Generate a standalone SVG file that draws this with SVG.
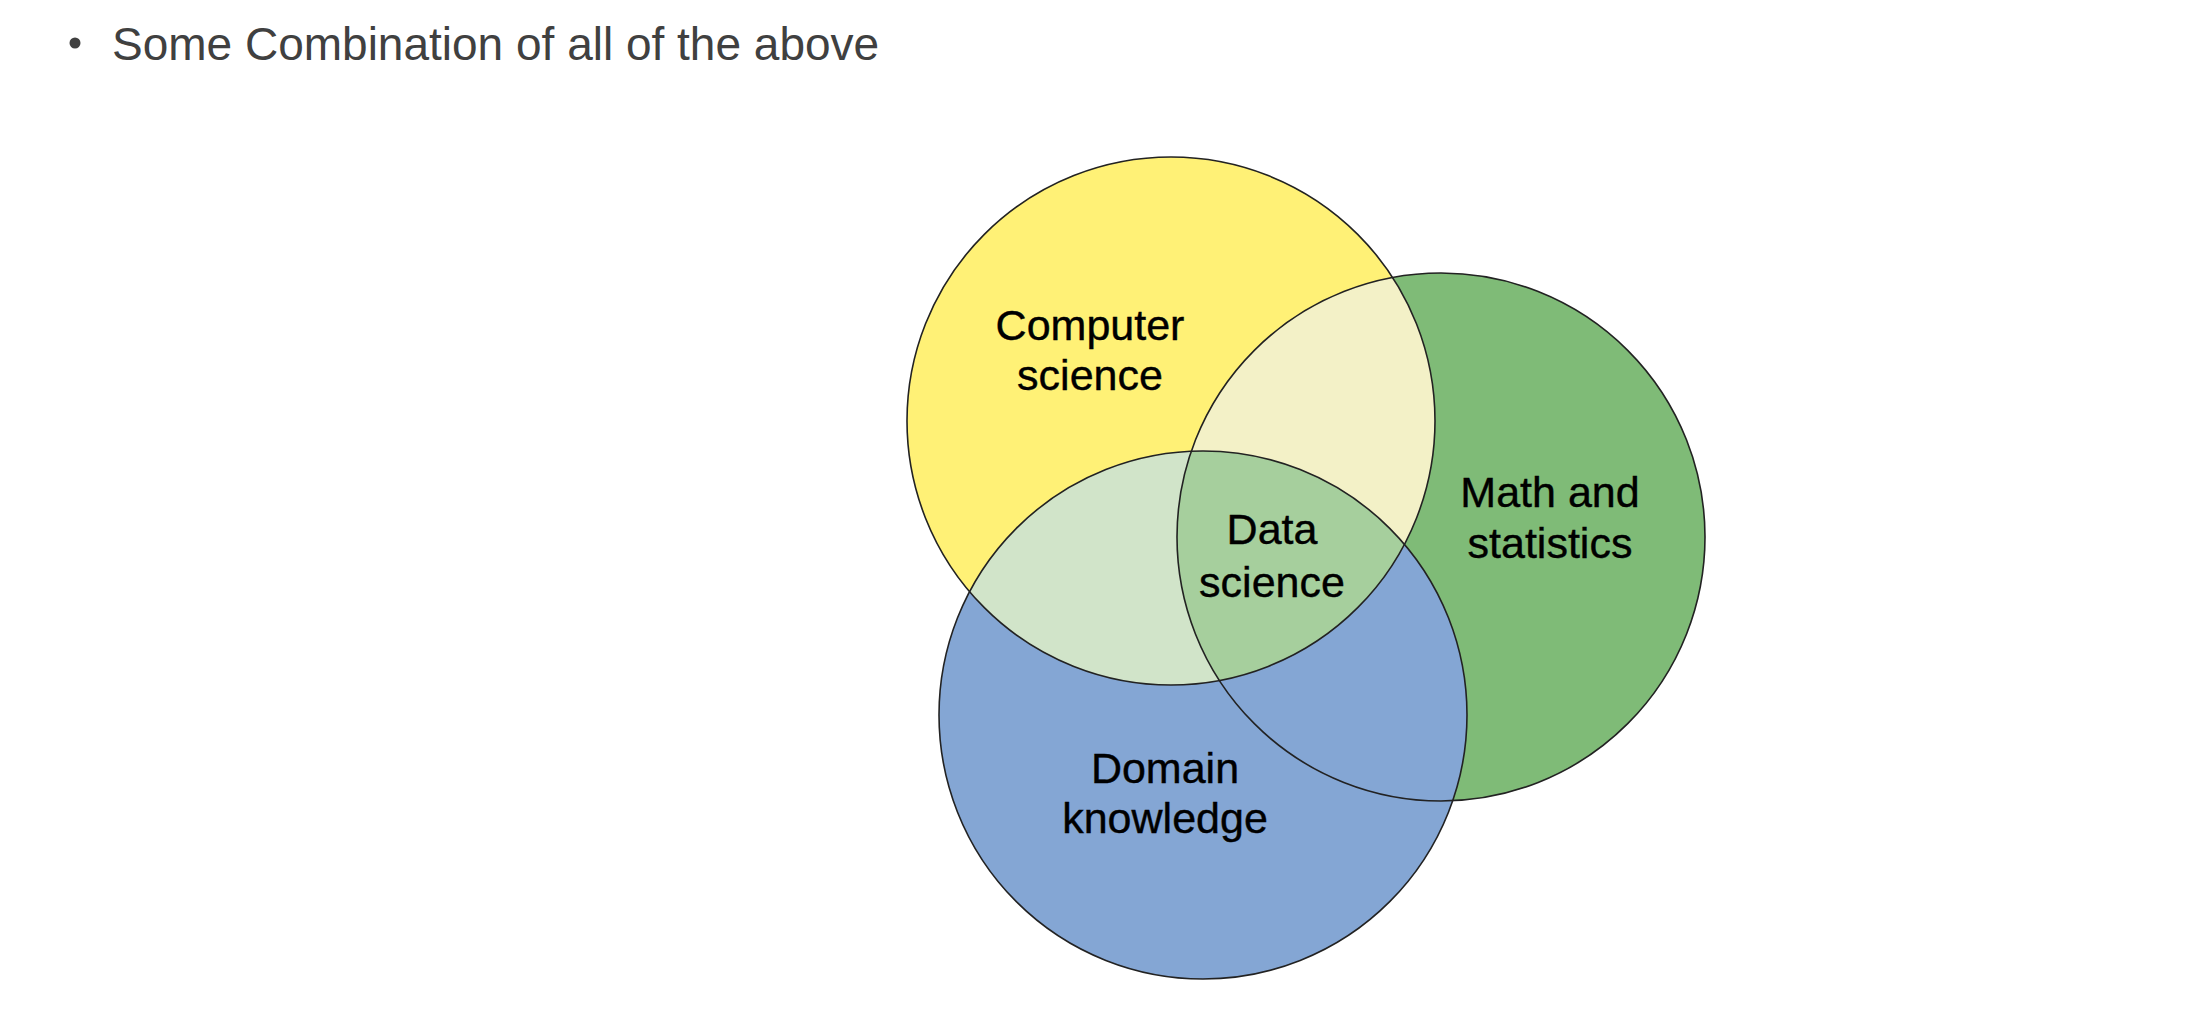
<svg xmlns="http://www.w3.org/2000/svg" width="2192" height="1024" viewBox="0 0 2192 1024">
  <style>
    .title { font-family: "Liberation Sans", Arial, sans-serif; font-size: 46px; fill: #404040; }
    .lbl { font-family: "Liberation Sans", Arial, sans-serif; font-size: 43px; fill: #000; stroke: #000; stroke-width: 0.4; text-anchor: middle; }
    .edge { fill: none; stroke: #222; stroke-width: 1.6; }
  </style>
  <defs>
    <circle id="cY" cx="1171" cy="421" r="264"/>
    <circle id="cG" cx="1441" cy="537" r="264"/>
    <circle id="cB" cx="1203" cy="715" r="264"/>
    <clipPath id="clipY"><use href="#cY"/></clipPath>
    <clipPath id="clipG"><use href="#cG"/></clipPath>
    <clipPath id="clipYG" clip-path="url(#clipG)"><use href="#cY"/></clipPath>
  </defs>
  <rect width="2192" height="1024" fill="#fff"/>

  <g id="bullet">
    <circle cx="75" cy="43" r="5.5" fill="#404040"/>
    <text class="title" x="112" y="60">Some Combination of all of the above</text>
  </g>

  <g id="fills">
    <use href="#cG" fill="#7fbb77"/>
    <use href="#cB" fill="#84a6d4"/>
    <use href="#cY" fill="#fff176"/>
    <use href="#cG" fill="#f3f1c7" clip-path="url(#clipY)"/>
    <use href="#cB" fill="#d1e4c9" clip-path="url(#clipY)"/>
    <use href="#cB" fill="#a6cf9d" clip-path="url(#clipYG)"/>
  </g>

  <g id="computer-science">
    <use href="#cY" class="edge"/>
    <text class="lbl" x="1090" y="340">Computer</text>
    <text class="lbl" x="1090" y="390">science</text>
  </g>
  <g id="math-statistics">
    <use href="#cG" class="edge"/>
    <text class="lbl" x="1550" y="507">Math and</text>
    <text class="lbl" x="1550" y="558">statistics</text>
  </g>
  <g id="domain-knowledge">
    <use href="#cB" class="edge"/>
    <text class="lbl" x="1165" y="783">Domain</text>
    <text class="lbl" x="1165" y="833">knowledge</text>
  </g>
  <g id="data-science">
    <text class="lbl" x="1272" y="544">Data</text>
    <text class="lbl" x="1272" y="597">science</text>
  </g>
  <g id="connectors"></g>
</svg>
